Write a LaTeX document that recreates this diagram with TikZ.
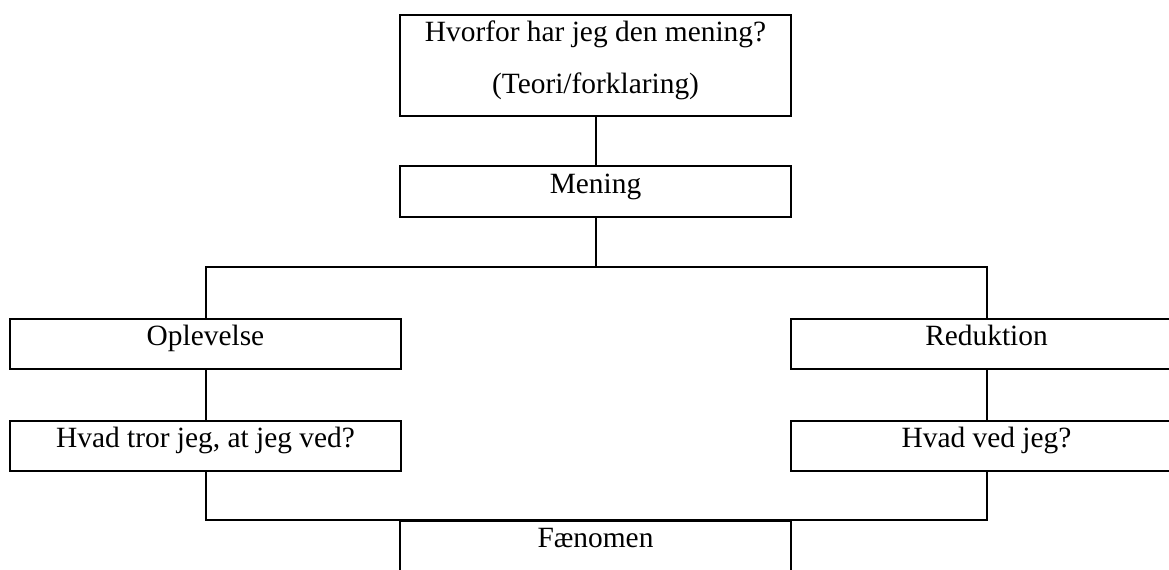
\documentclass[tikz,border=0pt]{standalone}
\usepackage{fontspec}
\setmainfont{Liberation Serif}
\begin{document}
\begin{tikzpicture}[x=0.5pt,y=-0.5pt,
  box/.style={draw, line width=1pt, inner sep=0pt, minimum width=195.5pt,
    font=\fontsize{14.7}{26}\selectfont, text depth=12pt, text height=13pt},
  conn/.style={line width=1pt}]
\clip (0,0) rectangle (1169,569);
\fill[white] (0,0) rectangle (1169,569);
\node[box, align=center, text height=39pt, text depth=11.5pt] (top) at (595.5,65.5) {Hvorfor har jeg den mening?\\(Teori/forklaring)};
\node[box, text height=13.5pt] (men) at (595.5,191.5) {Mening};
\node[box] (opl) at (205.5,344) {Oplevelse};
\node[box] (red) at (986.5,344) {Reduktion};
\node[box] (tror) at (205.5,446) {Hvad tror jeg, at jeg ved?};
\node[box] (ved) at (986.5,446) {Hvad ved jeg?};
\node[box] (fen) at (595.5,546) {Fænomen};
\coordinate (j1) at (595.5,267);
\draw[conn] (top.south) -- (men.north);
\draw[conn] (men.south) -- (j1);
\draw[conn] (opl.north) |- (j1) -| (red.north);
\draw[conn] (opl.south) -- (tror.north);
\draw[conn] (red.south) -- (ved.north);
\draw[conn] (tror.south) |- (fen.north) -| (ved.south);
\end{tikzpicture}
\end{document}
